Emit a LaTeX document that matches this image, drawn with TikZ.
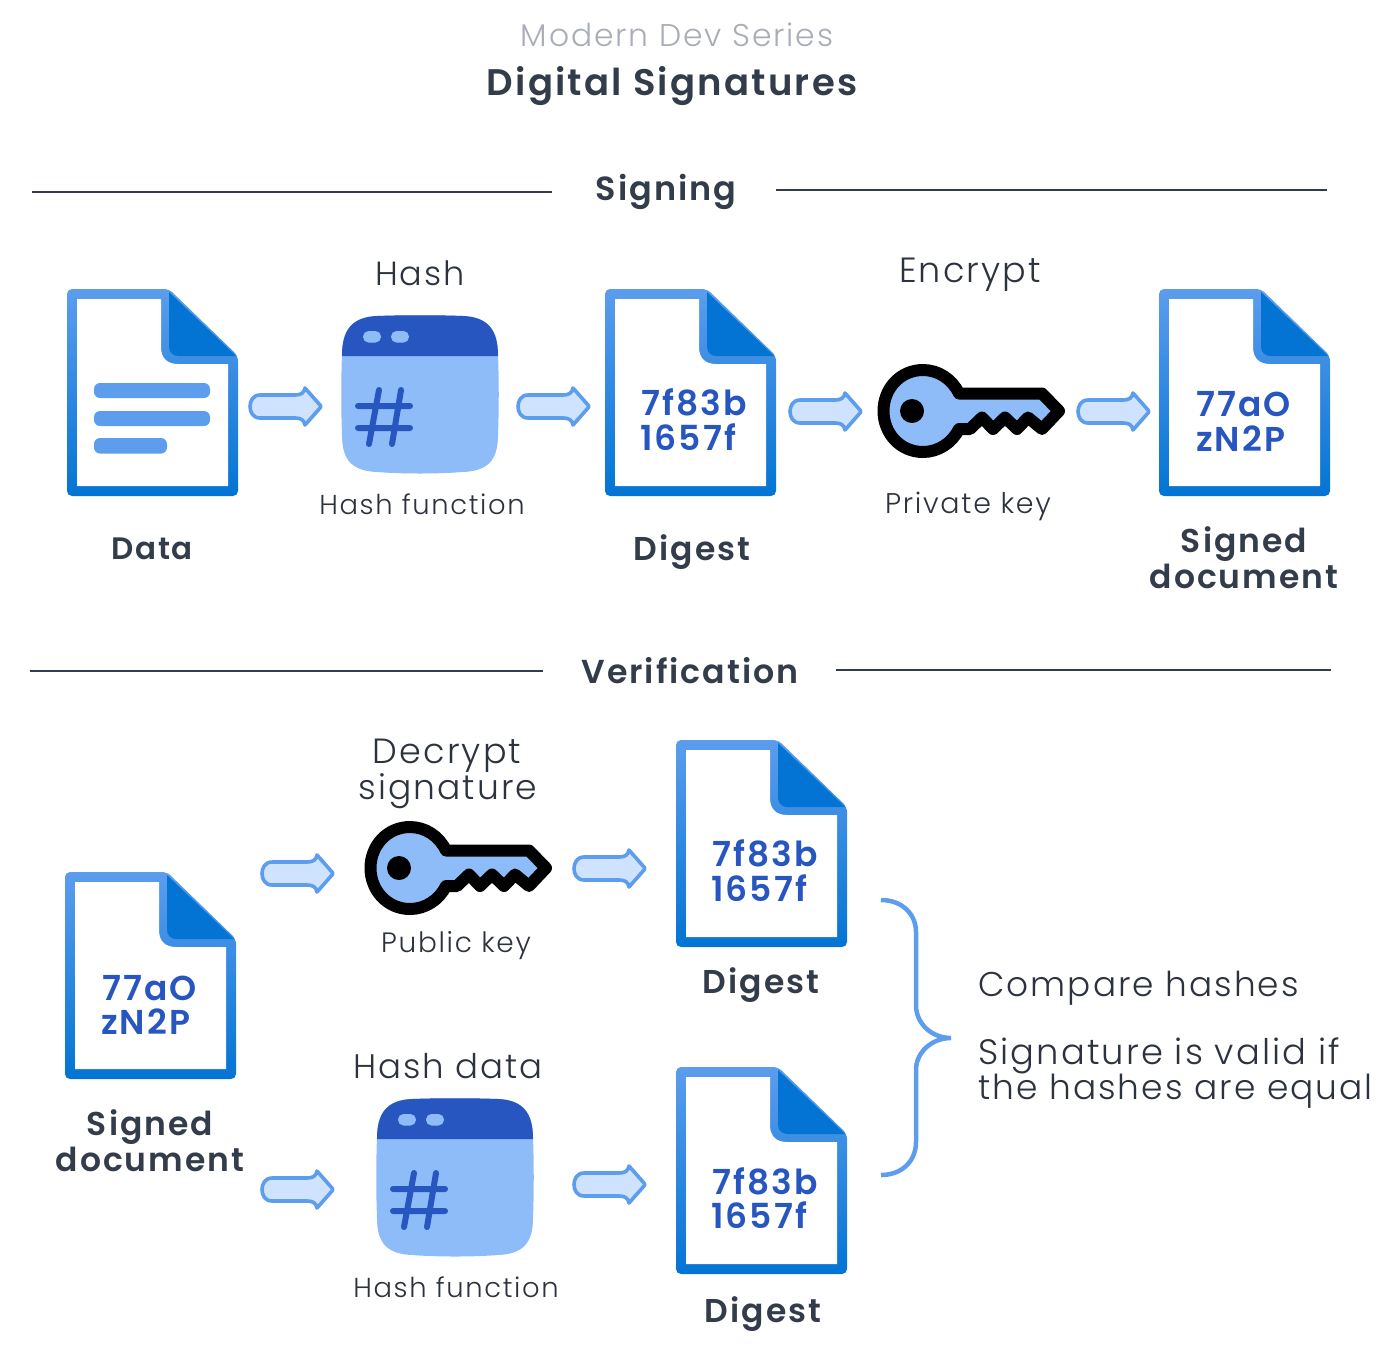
\documentclass[tikz,border=0pt]{standalone}
\usepackage{fontspec}
\setmainfont{Poppins}
\newfontfamily\litefont[LetterSpace=6]{Poppins Light}
\newfontfamily\boldfont[LetterSpace=6]{Poppins SemiBold}
\definecolor{ink}{HTML}{333C4A}
\definecolor{thin}{HTML}{2C333F}
\definecolor{greytext}{HTML}{A9ADB8}
\definecolor{bluemid}{HTML}{5C9DED}
\definecolor{bluedeep}{HTML}{0374D3}
\definecolor{bluedark}{HTML}{2756C0}
\definecolor{bluelight}{HTML}{8DBCF9}
\definecolor{bluepale}{HTML}{CFE2FE}
\tikzset{
  x=1pt,y=-1pt,
  lite/.style={text=thin,inner sep=0pt,font=\litefont\fontsize{#1}{#1}\selectfont},
  heavy/.style={text=ink,inner sep=0pt,font=\boldfont\fontsize{#1}{#1}\selectfont},
  code/.style={text=bluedark,inner sep=0pt,anchor=west,font=\boldfont\fontsize{34.5}{34.5}\selectfont},
  rule/.style={draw=ink,line width=1.3pt},
  docsheet/.pic={
    \shade[top color=bluemid,bottom color=bluedeep,rounded corners=5pt]
      (0,0) -- (102,0) -- (171,67) -- (171,207) -- (0,207) -- cycle;
    \fill[white] (10,10) -- (94,10) -- (94,58) .. controls (94,69) and (100,75) .. (111,75)
      -- (161,75) -- (161,197) -- (10,197) -- cycle;
    \fill[bluedeep] (102,3) -- (169,67) -- (111,67) .. controls (106,67) and (102,63) .. (102,58) -- cycle;
  },
  blockarrow/.pic={
    \draw[fill=bluepale,draw=bluemid,line width=3.6pt,line join=round]
      (11,-11) -- (46,-11) .. controls (52,-11) and (55,-13) .. (56,-18)
      -- (71,-1) .. controls (72,0) and (72,1) .. (71,2)
      -- (56,19) .. controls (55,14) and (52,12) .. (46,12)
      -- (11,12) .. controls (4,12) and (1,6) .. (1,0.5) .. controls (1,-5) and (4,-11) .. (11,-11) -- cycle;
  },
  hashwindow/.pic={
    \fill[bluelight] (35,0) .. controls (60,-1) and (96,-1) .. (121,0)
      .. controls (146,1) and (156,14) .. (156,38)
      .. controls (157,65) and (157,92) .. (156,119)
      .. controls (156,144) and (146,155) .. (121,156)
      .. controls (96,158) and (60,158) .. (35,156)
      .. controls (10,155) and (0,144) .. (0,119)
      .. controls (-1,92) and (-1,65) .. (0,38)
      .. controls (0,14) and (10,1) .. (35,0) -- cycle;
    \fill[bluedark] (35,0) .. controls (60,-1) and (96,-1) .. (121,0)
      .. controls (146,1) and (156,14) .. (156,40)
      -- (0,40) .. controls (0,14) and (10,1) .. (35,0) -- cycle;
    \fill[bluelight,rounded corners=5.5pt] (21,15) rectangle (39,26.5);
    \fill[bluelight,rounded corners=5.5pt] (49,15) rectangle (67,26.5);
    \draw[bluedark,line width=6pt,line cap=round]
      (16,90) -- (68,90) (16,112) -- (68,112) (37,74) -- (27,128) (59,74) -- (50,128);
  },
  keyicon/.pic={
    \draw[black,fill=bluelight,line width=12pt,line join=round]
      (36,-17.5) .. controls (29.2,-32) and (15.1,-41) .. (0,-41)
      .. controls (-22.6,-41) and (-39.5,-22.6) .. (-39.5,0)
      .. controls (-39.5,22.6) and (-22.6,41) .. (0,41)
      .. controls (15.1,41) and (29.2,32) .. (36,18)
      -- (47,18) -- (59,6.5) -- (70,18) -- (82,6.5) -- (94,18) -- (105,6.5) -- (119,18)
      -- (136,0) -- (119,-17.5) -- cycle;
    \fill[black] (-11,0) circle[radius=12];
  }
}
\begin{document}
\begin{tikzpicture}
\useasboundingbox (0,0) rectangle (1400,1350);
% title
\node[text=greytext,inner sep=0pt,font=\litefont\fontsize{31.4}{31.4}\selectfont] (series) at (677,35) {Modern Dev Series};
\node[heavy=37] (title) at (672,86) {Digital Signatures};
\node[heavy=33.5] (signing) at (666,192) {Signing};
\node[heavy=33.2] (verification) at (690,671) {Verification};
\coordinate (r1a) at (32,192); \coordinate (r1b) at (552,192);
\coordinate (r2a) at (776,190); \coordinate (r2b) at (1327,190);
\coordinate (r3a) at (30,671); \coordinate (r3b) at (543,671);
\coordinate (r4a) at (836,670); \coordinate (r4b) at (1331,670);
\draw[rule] (r1a) -- (r1b); \draw[rule] (r2a) -- (r2b);
\draw[rule] (r3a) -- (r3b); \draw[rule] (r4a) -- (r4b);
% signing icons
\pic at (67,289) {docsheet};
\fill[bluemid,rounded corners=6pt] (94,383) rectangle (210,398);
\fill[bluemid,rounded corners=6pt] (94,411) rectangle (210,426);
\fill[bluemid,rounded corners=6pt] (94,438) rectangle (167,453.5);
\pic at (342,316) {hashwindow};
\pic at (605,289) {docsheet};
\pic at (923,411) {keyicon};
\pic at (1159,289) {docsheet};
\pic at (249,406) {blockarrow};
\pic at (517,406) {blockarrow};
\pic at (789,411) {blockarrow};
\pic at (1077,411) {blockarrow};
\node[code] (c1a) at (641,402) {7f83b};
\node[code] (c1b) at (640,437) {1657f};
\node[code] (c2a) at (1196,404) {77aO};
\node[code] (c2b) at (1196,439) {zN2P};
\node[heavy=31] (data) at (152,549) {Data};
\node[lite=33.5] (hash) at (420,273) {Hash};
\node[lite=27.4] (hf1) at (422,504) {Hash function};
\node[heavy=33] (digest1) at (692,552) {Digest};
\node[lite=35] (encrypt) at (970,275) {Encrypt};
\node[lite=28.5] (privkey) at (968,506) {Private key};
\node[heavy=33] (signed1) at (1244,544) {Signed};
\node[heavy=33] (document1) at (1244,576) {document};
% verification icons
\pic at (65,872) {docsheet};
\pic at (676,740) {docsheet};
\pic at (676,1067) {docsheet};
\pic at (410,868) {keyicon};
\pic at (377,1099) {hashwindow};
\pic at (261,873) {blockarrow};
\pic at (573,868) {blockarrow};
\pic at (261,1189) {blockarrow};
\pic at (573,1184) {blockarrow};
\node[code] (c3a) at (102,988) {77aO};
\node[code] (c3b) at (101,1022) {zN2P};
\node[code] (c4a) at (712,853) {7f83b};
\node[code] (c4b) at (711,888) {1657f};
\node[code] (c5a) at (712,1181) {7f83b};
\node[code] (c5b) at (711,1215) {1657f};
\node[heavy=33] (signed2) at (150,1127) {Signed};
\node[heavy=33] (document2) at (150,1159) {document};
\node[lite=35] (decrypt) at (447,756) {Decrypt};
\node[lite=34.5] (signature) at (448,791) {signature};
\node[lite=28] (pubkey) at (456,946) {Public key};
\node[heavy=33] (digest2) at (761,985) {Digest};
\node[lite=34] (hashdata) at (448,1066) {Hash data};
\node[lite=27.4] (hf2) at (456,1287) {Hash function};
\node[heavy=33] (digest3) at (763,1314) {Digest};
% brace
\coordinate (bt) at (881,900); \coordinate (bm) at (951,1038); \coordinate (bb) at (881,1175);
\draw[bluemid,line width=4.5pt]
  (bt) .. controls (902,900) and (916,914) .. (916,932) -- (916,1005)
  .. controls (916,1024) and (932,1038) .. (bm)
  .. controls (932,1038) and (916,1052) .. (916,1070) -- (916,1142)
  .. controls (916,1161) and (902,1175) .. (bb);
\node[lite=34.3,anchor=west] (cmp) at (978,988) {Compare hashes};
\node[lite=35.3,anchor=west] (valid) at (978,1056) {Signature is valid if};
\node[lite=34.4,anchor=west] (equal) at (978,1091) {the hashes are equal};
\end{tikzpicture}
\end{document}
